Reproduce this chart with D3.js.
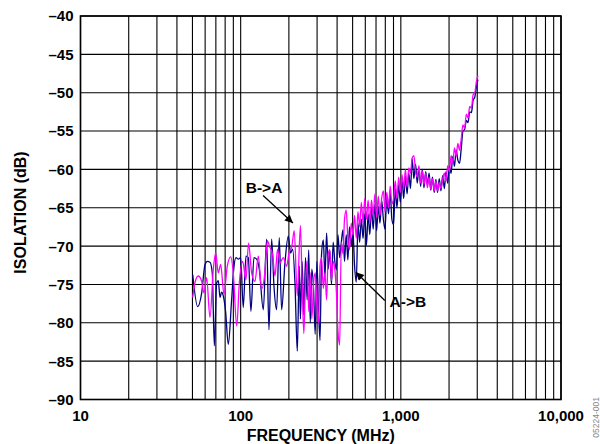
<!DOCTYPE html>
<html>
<head>
<meta charset="utf-8">
<script src="https://cdn.jsdelivr.net/npm/d3@7"></script>
<style>
  html, body { margin: 0; padding: 0; background: #fff; }
  svg { display: block; }
  text { font-family: "Liberation Sans", Arial, Helvetica, sans-serif; font-weight: bold; fill: #000; }
</style>
</head>
<body>
<svg id="chart" width="600" height="444"></svg>
<script>
// ---------------- data ----------------
const xTickValues = [10, 100, 1000, 10000];
const xTickLabels = ["10", "100", "1,000", "10,000"];
const yTickValues = [-90, -85, -80, -75, -70, -65, -60, -55, -50, -45, -40];
const yTickLabels = ["–90", "–85", "–80", "–75", "–70", "–65", "–60", "–55", "–50", "–45", "–40"];
const xTitle = "FREQUENCY (MHz)";
const yTitle = "ISOLATION (dB)";
const seriesNames = ["A->B", "B->A"];

// A->B (navy) frequency in MHz
const freqAB = [50.2, 53.9, 57.1, 59.9, 62.0, 64.3, 66.5, 68.5, 70.8, 72.5, 74.3, 76.0, 77.9, 80.5, 83.7, 87.8, 90.5, 93.5, 96.7, 100, 103.8, 107.9, 111.6, 115.9, 121, 125.8, 130.7, 138.5, 145.2, 150.2, 156.1, 161.4, 167.6, 174.2, 180.2, 189, 198.3, 205, 211, 218.3, 225.7, 232.3,
  236, 242, 248, 254, 260, 266, 272, 278, 285, 292, 299, 306, 313, 320, 328, 336, 344, 352, 360, 369, 378, 387, 396, 405, 415, 425, 435, 445, 456, 467, 478, 490, 502, 514, 527, 540, 553, 567, 581, 595, 610, 625, 640, 656, 672, 689, 706, 723, 741, 759, 778, 797, 817, 837, 858, 879, 901, 923, 946, 969, 993, 1017, 1042, 1068, 1094, 1121, 1149, 1177, 1206, 1236, 1266, 1297, 1329, 1362, 1395, 1430, 1465, 1501, 1538, 1576, 1615, 1655, 1695, 1737, 1780, 1824, 1869, 1915, 1962, 2010, 2060, 2110, 2162, 2215, 2270, 2326, 2383, 2442, 2502, 2564, 2627, 2691, 2758, 2826, 2895, 2966, 3030];
// A->B isolation in dB
const isoAB = [-73.7, -77.9, -76.1, -72.4, -72.0, -72.1, -73.5, -83.0, -74.8, -74.5, -76.7, -76.0, -76.5, -78.5, -82.8, -77.0, -73.0, -71.5, -71.7, -71.5, -78.0, -71.3, -71.5, -78.5, -71.5, -71.7, -73.0, -78.3, -69.1, -80.9, -69.1, -75.2, -78.3, -68.9, -78.3, -72.2, -68.7, -70.9, -70.4, -74.8, -83.7, -72.6,
  -79.5, -72.0, -79.0, -71.5, -77.0, -70.5, -80.0, -73.0, -75.5, -81.5, -72.0, -78.0, -82.3, -71.0, -69.2, -74.0, -68.3, -73.0, -70.5, -75.0, -69.5, -72.0, -73.1, -68.5, -71.5, -69.5, -67.9, -72.0, -68.5, -71.8, -67.5, -70.0, -68.0, -72.5, -74.7,
  -67.0, -69.5, -66.5, -69.0, -65.8, -69.9, -65.8, -68.5, -65.0, -67.8, -64.5, -68.0, -64.8, -67.0, -64.0, -66.5, -67.8, -63.5, -65.8, -63.0, -66.5, -67.2, -62.5, -65.0, -62.0, -64.3, -61.3, -63.8, -60.8, -63.2, -60.5, -62.5, -58.6, -61.2, -59.3, -61.8, -59.8, -62.2, -60.0, -62.4, -60.3, -62.0, -60.5, -62.7, -61.0, -63.0, -61.3, -63.0, -61.2, -62.8, -60.8, -62.5, -60.3, -61.8, -59.6, -60.5, -58.3, -59.6, -57.5, -58.8, -59.2, -57.3,
  -55.0, -54.8, -53.6, -53.9, -52.5, -52.6, -51.0, -50.6, -49.2, -48.3];

// B->A (magenta) frequency in MHz
const freqBA = [50.2, 51.8, 54.4, 57.1, 59.0, 61.3, 64.3, 67.5, 69.8, 72.5, 75.0, 78.7, 82.5, 86.7, 89.9, 94.5, 98.1, 102.9, 107.9, 112, 117.1, 122.8, 128.9, 135, 141.8, 146.6, 152.4, 158.3, 163.7, 170.1, 176, 184.5, 193.6, 201.2, 208, 216, 225.7,
  236, 242, 248, 254, 260, 266, 272, 278, 285, 292, 299, 306, 313, 320, 328, 336, 344, 352, 360, 369, 378, 387, 396, 405, 415, 425, 435, 445, 456, 467, 478, 490, 502, 514, 527, 540, 553, 567, 581, 595, 610, 625, 640, 656, 672, 689, 706, 723, 741, 759, 778, 797, 817, 837, 858, 879, 901, 923, 946, 969, 993, 1017, 1042, 1068, 1094, 1121, 1149, 1177, 1206, 1236, 1266, 1297, 1329, 1362, 1395, 1430, 1465, 1501, 1538, 1576, 1615, 1655, 1695, 1737, 1780, 1824, 1869, 1915, 1962, 2010, 2060, 2110, 2162, 2215, 2270, 2326, 2383, 2442, 2502, 2564, 2627, 2691, 2758, 2826, 2895, 2966, 3030];
// B->A isolation in dB
const isoBA = [-76.7, -74.8, -73.9, -74.6, -76.1, -74.1, -79.3, -73.0, -70.9, -73.5, -72.4, -76.3, -72.6, -71.4, -73.5, -80.4, -74.8, -72.0, -74.4, -69.6, -73.5, -74.6, -71.3, -75.6, -73.3, -69.3, -70.2, -71.1, -73.9, -70.4, -72.2, -71.5, -72.6, -70.7, -70.2, -68.0, -76.5,
  -67.3, -75.0, -81.4, -74.5, -72.0, -78.5, -73.5, -79.5, -75.0, -73.5, -77.5, -80.0, -72.5, -71.5, -75.5, -73.5, -77.0, -71.0, -70.5, -74.5, -72.0, -73.0, -76.0, -81.0, -82.9, -69.5, -71.0, -66.5, -65.3, -69.0, -70.5, -67.0, -68.5, -66.0, -69.0,
  -65.5, -67.5, -64.3, -67.0, -63.8, -66.5, -64.0, -67.0, -64.0, -66.0, -63.2, -66.3, -63.5, -66.0, -63.8, -62.8, -65.5, -63.0, -65.0, -62.2, -64.5, -63.8, -61.5, -63.8, -61.0, -63.0, -60.7, -62.5, -60.0, -62.3, -59.8, -60.5, -58.5, -58.2, -60.2, -61.0, -59.5, -61.8, -60.2, -62.0, -60.5, -62.4, -61.0, -62.6, -61.2, -62.8, -61.5, -62.8, -61.7, -62.5, -61.3, -60.5, -61.5, -59.5, -60.3, -58.2, -59.2, -57.2, -58.3, -56.6, -57.5, -56.0,
  -54.2, -54.6, -52.8, -53.3, -51.8, -52.0, -50.3, -50.0, -48.5, -47.8];

// annotations: label position and arrow (from -> to) in data units
const annBA = { text: "B->A", f: 140, v: -62.3, f0: 138, v0: -63.4, f1: 212, v1: -67.0 };
const annAB = { text: "A->B", f: 1107, v: -77.2, f0: 794, v0: -77.1, f1: 524, v1: -73.4 };

// ---------------- drawing ----------------
const svg = d3.select("#chart");
const pLeft = 80.5, pRight = 561, pTop = 16, pBottom = 399.5;

const x = d3.scaleLog().domain([10, 10000]).range([pLeft, pRight]);
const y = d3.scaleLinear().domain([-90, -40]).range([pBottom, pTop]);

svg.append("rect").attr("width", 600).attr("height", 444).attr("fill", "#fff");

// grid
const grid = svg.append("g");
grid.selectAll("line.v").data(x.ticks()).join("line")
  .attr("x1", d => x(d)).attr("x2", d => x(d))
  .attr("y1", pTop).attr("y2", pBottom)
  .attr("stroke", "#000").attr("stroke-width", 1.1);
grid.selectAll("line.h").data(yTickValues).join("line")
  .attr("x1", pLeft).attr("x2", pRight)
  .attr("y1", d => y(d)).attr("y2", d => y(d))
  .attr("stroke", "#000").attr("stroke-width", 1.1);

// series
const line = d3.line().x(d => x(d[0])).y(d => y(d[1])).curve(d3.curveMonotoneX);
const ab = freqAB.map((f, i) => [f, isoAB[i]]);
const ba = freqBA.map((f, i) => [f, isoBA[i]]);
svg.append("path").datum(ab).attr("d", line)
  .attr("fill", "none").attr("stroke", "#000080").attr("stroke-width", 1.3).attr("stroke-linejoin", "round");
svg.append("path").datum(ba).attr("d", line)
  .attr("fill", "none").attr("stroke", "#ff00ff").attr("stroke-width", 1.3).attr("stroke-linejoin", "round");

// border
svg.append("rect").attr("x", pLeft).attr("y", pTop)
  .attr("width", pRight - pLeft).attr("height", pBottom - pTop)
  .attr("fill", "none").attr("stroke", "#000").attr("stroke-width", 1.6);

// y tick labels
svg.selectAll("text.yt").data(yTickValues).join("text")
  .attr("class", "yt")
  .attr("x", 73.5).attr("y", d => y(d)).attr("dy", "0.36em")
  .attr("text-anchor", "end").attr("font-size", 15)
  .text((d, i) => yTickLabels[i]);

// x tick labels
svg.selectAll("text.xt").data(xTickValues).join("text")
  .attr("class", "xt")
  .attr("x", d => x(d)).attr("y", 421)
  .attr("text-anchor", "middle").attr("font-size", 15)
  .text((d, i) => xTickLabels[i]);

// axis titles
svg.append("text").attr("x", (pLeft + pRight) / 2).attr("y", 440.5)
  .attr("text-anchor", "middle").attr("font-size", 16).text(xTitle);
svg.append("text").attr("transform", "translate(25.5,212.5) rotate(-90)")
  .attr("text-anchor", "middle").attr("font-size", 16).text(yTitle);

// annotations
const defs = svg.append("defs");
defs.append("marker").attr("id", "arrow").attr("viewBox", "0 0 10 10")
  .attr("refX", 10).attr("refY", 5).attr("markerWidth", 12).attr("markerHeight", 8)
  .attr("markerUnits", "userSpaceOnUse").attr("orient", "auto")
  .append("path").attr("d", "M0,0 L10,5 L0,10 Z").attr("fill", "#000");

[annBA, annAB].forEach(a => {
  svg.append("line")
    .attr("x1", x(a.f0)).attr("y1", y(a.v0)).attr("x2", x(a.f1)).attr("y2", y(a.v1))
    .attr("stroke", "#000").attr("stroke-width", 1.3).attr("marker-end", "url(#arrow)");
  svg.append("text").attr("x", x(a.f)).attr("y", y(a.v)).attr("dy", "0.36em")
    .attr("text-anchor", "middle").attr("font-size", 15.5).text(a.text);
});

// document code
svg.append("text").attr("transform", "translate(599,397) rotate(-90)")
  .attr("text-anchor", "end").attr("font-size", 8.5)
  .style("font-weight", "normal").style("fill", "#888")
  .text("05224-001");
</script>
</body>
</html>
